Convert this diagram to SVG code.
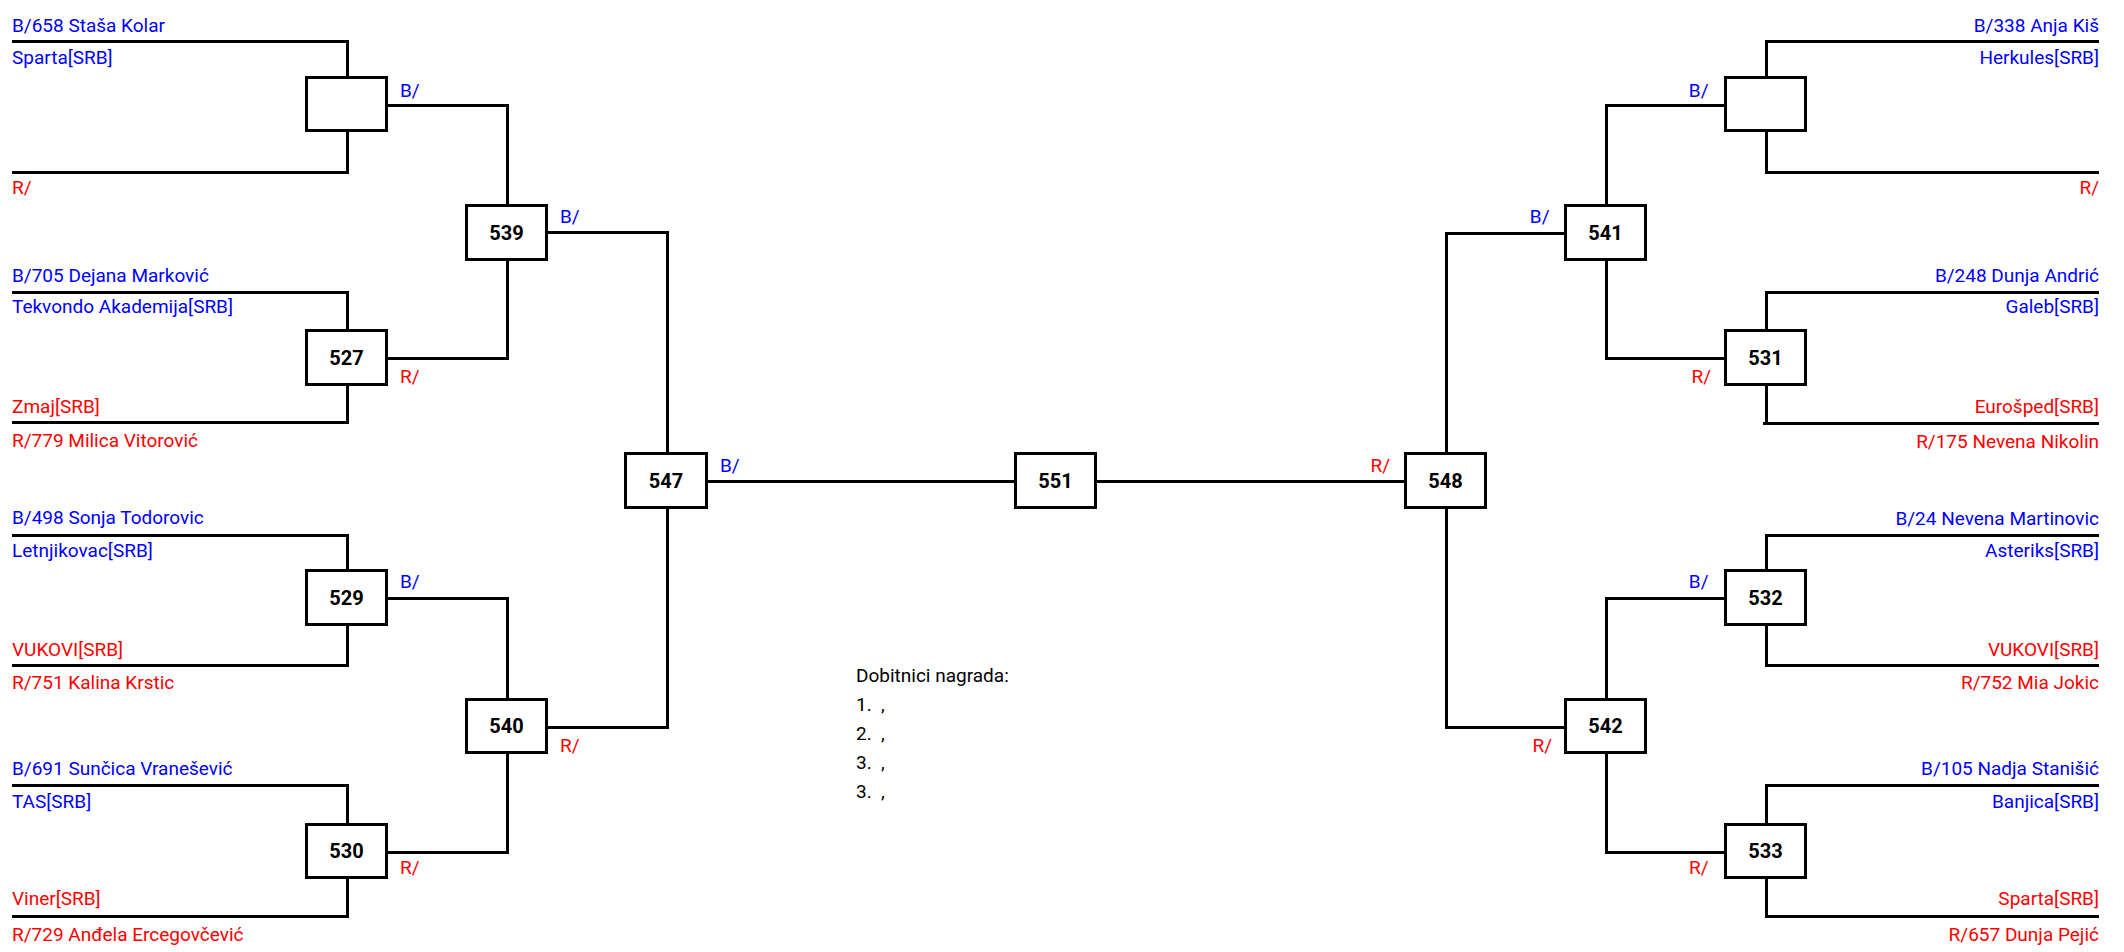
<svg xmlns="http://www.w3.org/2000/svg" width="2124" height="952" viewBox="0 0 2124 952">
<style>
text{font-family:Roboto,"Liberation Sans",sans-serif;font-size:19px}
.b{fill:#0000ff}
.r{fill:#ff0000}
.k{fill:#000}
.e{text-anchor:end}
.num{font-size:20px;font-weight:bold;text-anchor:middle;fill:#000}
.box{fill:#fff;stroke:#000;stroke-width:3}
.ln{fill:none;stroke:#000;stroke-width:3;stroke-linejoin:miter}
</style>
<rect width="2124" height="952" fill="#fff"/>
<g id="connectors">
<path class="ln" d="M12 41.5H347.5V77.5M347.5 130.5V172.5H12"/>
<path class="ln" d="M12 292.5H347.5V330.5M347.5 384.5V422.5H12"/>
<path class="ln" d="M12 535.5H347.5V570.5M347.5 624.5V665.5H12"/>
<path class="ln" d="M12 785.5H347.5V824.5M347.5 877.5V916.5H12"/>
<path class="ln" d="M386.5 105.5H507.5V205.5M507.5 259.5V358.5H386.5"/>
<path class="ln" d="M386.5 598.5H507.5V699.5M507.5 752.5V852.5H386.5"/>
<path class="ln" d="M546.5 232.5H667.5V453.5M667.5 507.5V727.5H546.5"/>
<path class="ln" d="M706.5 481.5H1015.5M1095.5 481.5H1405.5"/>
<path class="ln" d="M1565.5 233.5H1446.5V453.5M1446.5 507.5V727.5H1565.5"/>
<path class="ln" d="M1725.5 105.5H1606.5V205.5M1606.5 259.5V358.5H1725.5"/>
<path class="ln" d="M1725.5 598.5H1606.5V699.5M1606.5 752.5V852.5H1725.5"/>
<path class="ln" d="M2099 41.5H1766.5V77.5M1766.5 130.5V172.5H2099"/>
<path class="ln" d="M2099 292.5H1766.5V330.5M1766.5 384.5V423.5"/>
<path class="ln" d="M1763 423.5H2099"/>
<path class="ln" d="M2099 535.5H1766.5V570.5M1766.5 624.5V665.5H2099"/>
<path class="ln" d="M2099 785.5H1766.5V824.5M1766.5 877.5V916.5H2099"/>
</g>
<g id="match-L1">
<rect class="box" x="306.5" y="77.5" width="80" height="53"/>
<text class="b" x="12" y="32">B/658 Staša Kolar</text>
<text class="b" x="12" y="64">Sparta[SRB]</text>
<text class="r" x="12" y="194.3">R/</text>
<text class="b" x="400" y="96.7">B/</text>
</g>
<g id="match-527">
<rect class="box" x="306.5" y="330.5" width="80" height="54"/>
<text class="num" x="346.5" y="364.5">527</text>
<text class="b" x="12" y="281.7">B/705 Dejana Marković</text>
<text class="b" x="12" y="313">Tekvondo Akademija[SRB]</text>
<text class="r" x="12" y="412.7">Zmaj[SRB]</text>
<text class="r" x="12" y="446.7">R/779 Milica Vitorović</text>
<text class="r" x="400" y="383.3">R/</text>
</g>
<g id="match-529">
<rect class="box" x="306.5" y="570.5" width="80" height="54"/>
<text class="num" x="346.5" y="604.5">529</text>
<text class="b" x="12" y="524">B/498 Sonja Todorovic</text>
<text class="b" x="12" y="556.7">Letnjikovac[SRB]</text>
<text class="r" x="12" y="655.7">VUKOVI[SRB]</text>
<text class="r" x="12" y="689.3">R/751 Kalina Krstic</text>
<text class="b" x="400" y="588.3">B/</text>
</g>
<g id="match-530">
<rect class="box" x="306.5" y="824.5" width="80" height="53"/>
<text class="num" x="346.5" y="858">530</text>
<text class="b" x="12" y="775">B/691 Sunčica Vranešević</text>
<text class="b" x="12" y="808.3">TAS[SRB]</text>
<text class="r" x="12" y="905">Viner[SRB]</text>
<text class="r" x="12" y="940.7">R/729 Anđela Ercegovčević</text>
<text class="r" x="400" y="874">R/</text>
</g>
<g id="match-539">
<rect class="box" x="466.5" y="205.5" width="80" height="54"/>
<text class="num" x="506.5" y="239.5">539</text>
<text class="b" x="560" y="223.3">B/</text>
</g>
<g id="match-540">
<rect class="box" x="466.5" y="699.5" width="80" height="53"/>
<text class="num" x="506.5" y="733">540</text>
<text class="r" x="560" y="752.3">R/</text>
</g>
<g id="match-547">
<rect class="box" x="625.5" y="453.5" width="81" height="54"/>
<text class="num" x="666" y="487.5">547</text>
<text class="b" x="720" y="471.7">B/</text>
</g>
<g id="match-551">
<rect class="box" x="1015.5" y="453.5" width="80" height="54"/>
<text class="num" x="1055.5" y="487.5">551</text>
</g>
<g id="match-548">
<rect class="box" x="1405.5" y="453.5" width="80" height="54"/>
<text class="num" x="1445.5" y="487.5">548</text>
<text class="r e" x="1390" y="471.7">R/</text>
</g>
<g id="match-541">
<rect class="box" x="1565.5" y="205.5" width="80" height="54"/>
<text class="num" x="1605.5" y="239.5">541</text>
<text class="b e" x="1549.5" y="223.3">B/</text>
</g>
<g id="match-542">
<rect class="box" x="1565.5" y="699.5" width="80" height="53"/>
<text class="num" x="1605.5" y="733">542</text>
<text class="r e" x="1552" y="752.3">R/</text>
</g>
<g id="match-R1">
<rect class="box" x="1725.5" y="77.5" width="80" height="53"/>
<text class="b e" x="2099" y="32">B/338 Anja Kiš</text>
<text class="b e" x="2099" y="64">Herkules[SRB]</text>
<text class="r e" x="2099" y="194.3">R/</text>
<text class="b e" x="1708.5" y="96.7">B/</text>
</g>
<g id="match-531">
<rect class="box" x="1725.5" y="330.5" width="80" height="54"/>
<text class="num" x="1765.5" y="364.5">531</text>
<text class="b e" x="2099" y="281.7">B/248 Dunja Andrić</text>
<text class="b e" x="2099" y="313.3">Galeb[SRB]</text>
<text class="r e" x="2099" y="413.3">Eurošped[SRB]</text>
<text class="r e" x="2099" y="448.3">R/175 Nevena Nikolin</text>
<text class="r e" x="1711" y="383.3">R/</text>
</g>
<g id="match-532">
<rect class="box" x="1725.5" y="570.5" width="80" height="54"/>
<text class="num" x="1765.5" y="604.5">532</text>
<text class="b e" x="2099" y="525">B/24 Nevena Martinovic</text>
<text class="b e" x="2099" y="556.7">Asteriks[SRB]</text>
<text class="r e" x="2099" y="655.7">VUKOVI[SRB]</text>
<text class="r e" x="2099" y="689.3">R/752 Mia Jokic</text>
<text class="b e" x="1708.5" y="588.3">B/</text>
</g>
<g id="match-533">
<rect class="box" x="1725.5" y="824.5" width="80" height="53"/>
<text class="num" x="1765.5" y="858">533</text>
<text class="b e" x="2099" y="775">B/105 Nadja Stanišić</text>
<text class="b e" x="2099" y="808.3">Banjica[SRB]</text>
<text class="r e" x="2099" y="905">Sparta[SRB]</text>
<text class="r e" x="2099" y="940.7">R/657 Dunja Pejić</text>
<text class="r e" x="1708.5" y="874">R/</text>
</g>
<g id="winners">
<text class="k" x="856" y="681.7">Dobitnici nagrada:</text>
<text class="k" x="856" y="710.7" xml:space="preserve">1.  ,</text>
<text class="k" x="856" y="740" xml:space="preserve">2.  ,</text>
<text class="k" x="856" y="769.3" xml:space="preserve">3.  ,</text>
<text class="k" x="856" y="798.3" xml:space="preserve">3.  ,</text>
</g>
</svg>
